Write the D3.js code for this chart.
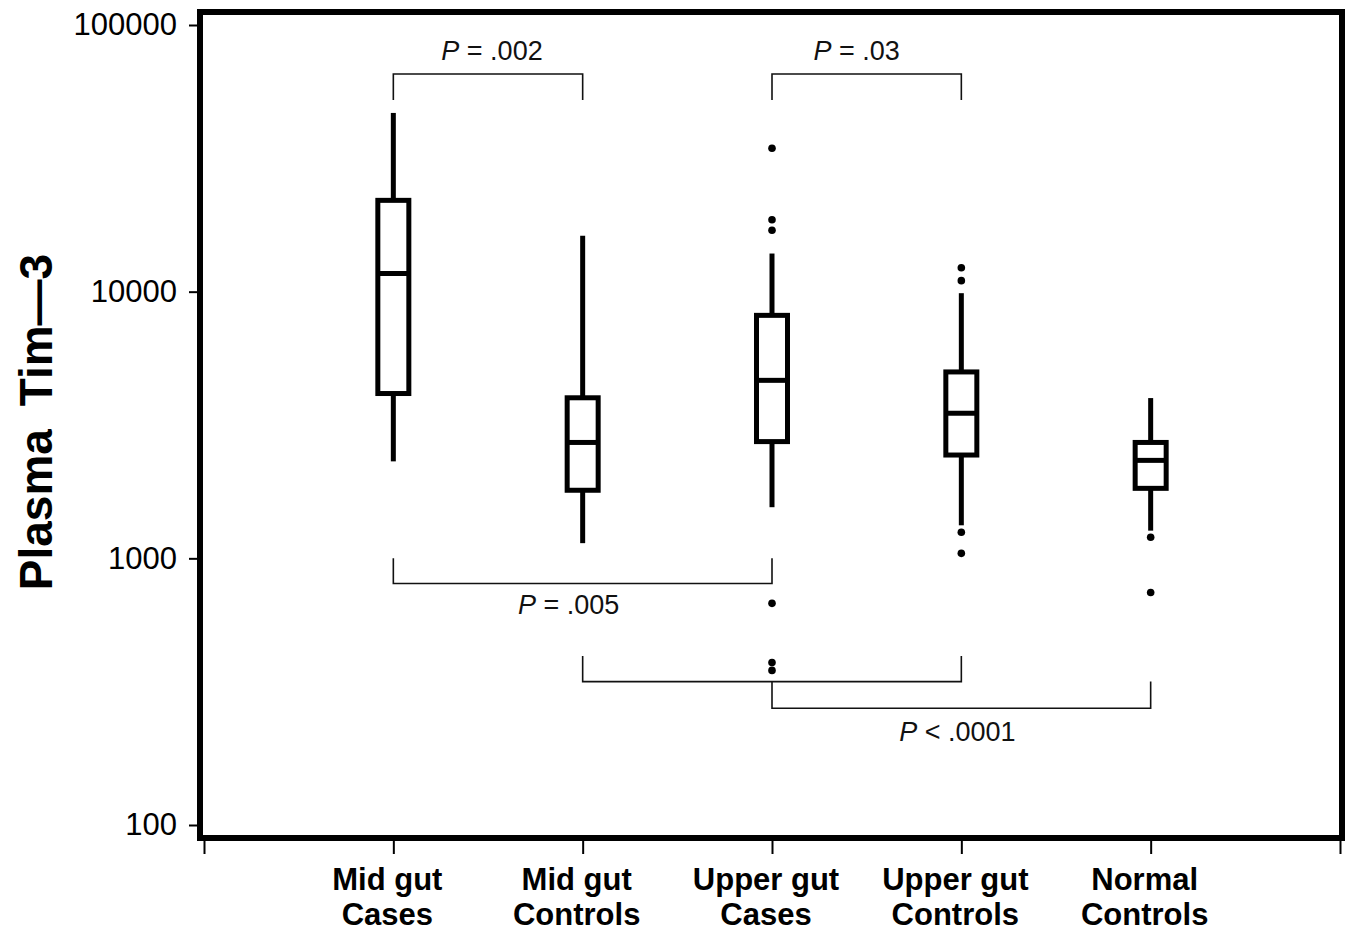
<!DOCTYPE html>
<html>
<head>
<meta charset="utf-8">
<script src="https://cdn.jsdelivr.net/npm/d3@7"></script>
<style>
  body { margin: 0; background: #fff; }
  svg { display: block; font-family: "Liberation Sans", Arial, sans-serif; }
</style>
</head>
<body>
<svg id="chart" width="1355" height="935"></svg>
<script>
// group names (two lines each)
const groups = [
  ["Mid gut", "Cases"],
  ["Mid gut", "Controls"],
  ["Upper gut", "Cases"],
  ["Upper gut", "Controls"],
  ["Normal", "Controls"]
];

// box stats: whisker low, q1, median, q3, whisker high
const whiskerLow  = [2310, 1140, 1555, 1330, 1270];
const q1          = [4150, 1800, 2740, 2440, 1830];
const medians     = [11700, 2720, 4650, 3500, 2330];
const q3          = [22000, 4000, 8150, 5000, 2720];
const whiskerHigh = [46800, 16200, 13900, 9870, 3990];

// outliers per group
const outliers = [
  [],
  [],
  [34500, 18600, 17000, 678, 407, 380],
  [12300, 11000, 1253, 1044],
  [1200, 745]
];

const yTicks = [100, 1000, 10000, 100000];

// significance brackets: group index from/to, leg start value, bar value
const brackets = [
  { from: 0, to: 1, legEnd: 52300, bar: 65500 },
  { from: 2, to: 3, legEnd: 52300, bar: 65500 },
  { from: 0, to: 2, legEnd: 1000, bar: 805 },
  { from: 1, to: 3, legEnd: 430, bar: 345 },
  { from: 2, to: 4, legEnd: 345, bar: 274 }
];
const pLabels = [
  { text: " = .002", sign: "P", from: 0, to: 1, value: 80500, dx: 4 },
  { text: " = .03", sign: "P", from: 2, to: 3, value: 80500, dx: -10 },
  { text: " = .005", sign: "P", from: 0, to: 2, value: 670, dx: -14 },
  { text: " < .0001", sign: "P", from: 2, to: 4, value: 225, dx: -4 }
];

const svg = d3.select("#chart");

const frame = { left: 200, top: 12, right: 1342, bottom: 838 };

const y = d3.scaleLog().domain([100, 100000]).range([825, 25]);
const x = d3.scaleLinear().domain([0, 6]).range([204, 1340]);
const cx = i => x(i + 1);

// frame
svg.append("rect")
  .attr("x", frame.left).attr("y", frame.top)
  .attr("width", frame.right - frame.left)
  .attr("height", frame.bottom - frame.top)
  .attr("fill", "none").attr("stroke", "#000").attr("stroke-width", 6);

// y axis
const yAxis = svg.append("g")
  .attr("transform", `translate(${frame.left - 3},0)`)
  .call(d3.axisLeft(y).tickValues(yTicks).tickFormat(d3.format("d")).tickSize(8).tickPadding(12));
yAxis.select(".domain").remove();
yAxis.selectAll("line").attr("stroke-width", 2);
yAxis.selectAll("text")
  .attr("font-size", 31)
  .attr("font-family", "'Liberation Sans', Arial, sans-serif")
  .attr("fill", "#000");

// x axis ticks
const xAxis = svg.append("g")
  .attr("transform", `translate(0,${frame.bottom + 3})`)
  .call(d3.axisBottom(x).tickValues(d3.range(0, 7)).tickSize(13).tickFormat(""));
xAxis.select(".domain").remove();
xAxis.selectAll("line").attr("stroke-width", 2);

// category labels
const cat = svg.append("g")
  .attr("font-size", 31)
  .attr("font-weight", "bold")
  .attr("text-anchor", "middle");
groups.forEach((g, i) => {
  cat.append("text").attr("x", cx(i) - 6).attr("y", 890).text(g[0]);
  cat.append("text").attr("x", cx(i) - 6).attr("y", 925).text(g[1]);
});

// y label
svg.append("text")
  .attr("transform", "translate(52,422) rotate(-90)")
  .attr("text-anchor", "middle")
  .attr("font-size", 46)
  .attr("font-weight", "bold")
  .attr("word-spacing", 10)
  .text("Plasma Tim\u20143");

// boxes
const boxW = 31;
const boxes = svg.append("g").attr("stroke", "#000").attr("stroke-width", 5).attr("fill", "none");
groups.forEach((g, i) => {
  boxes.append("line")
    .attr("x1", cx(i)).attr("x2", cx(i))
    .attr("y1", y(whiskerHigh[i])).attr("y2", y(q3[i]));
  boxes.append("line")
    .attr("x1", cx(i)).attr("x2", cx(i))
    .attr("y1", y(q1[i])).attr("y2", y(whiskerLow[i]));
  boxes.append("rect")
    .attr("x", cx(i) - boxW / 2).attr("width", boxW)
    .attr("y", y(q3[i])).attr("height", y(q1[i]) - y(q3[i]));
  boxes.append("line")
    .attr("x1", cx(i) - boxW / 2).attr("x2", cx(i) + boxW / 2)
    .attr("y1", y(medians[i])).attr("y2", y(medians[i]));
});

// outlier dots
svg.append("g").selectAll("circle")
  .data(outliers.flatMap((vals, i) => vals.map(v => ({ i, v }))))
  .join("circle")
  .attr("cx", d => cx(d.i))
  .attr("cy", d => y(d.v))
  .attr("r", 3.8)
  .attr("fill", "#000");

// brackets
svg.append("g").selectAll("path")
  .data(brackets)
  .join("path")
  .attr("d", b => {
    const x1 = cx(b.from), x2 = cx(b.to);
    return `M${x1},${y(b.legEnd)}V${y(b.bar)}H${x2}V${y(b.legEnd)}`;
  })
  .attr("fill", "none")
  .attr("stroke", "#111")
  .attr("stroke-width", 1.6);

// p value labels
const pl = svg.append("g")
  .attr("font-size", 27)
  .attr("fill", "#111")
  .attr("text-anchor", "middle");
pLabels.forEach(p => {
  const t = pl.append("text")
    .attr("x", (cx(p.from) + cx(p.to)) / 2 + p.dx)
    .attr("y", y(p.value))
    .attr("dy", "0.35em");
  t.append("tspan").attr("font-style", "italic").text(p.sign);
  t.append("tspan").text(p.text);
});
</script>
</body>
</html>
